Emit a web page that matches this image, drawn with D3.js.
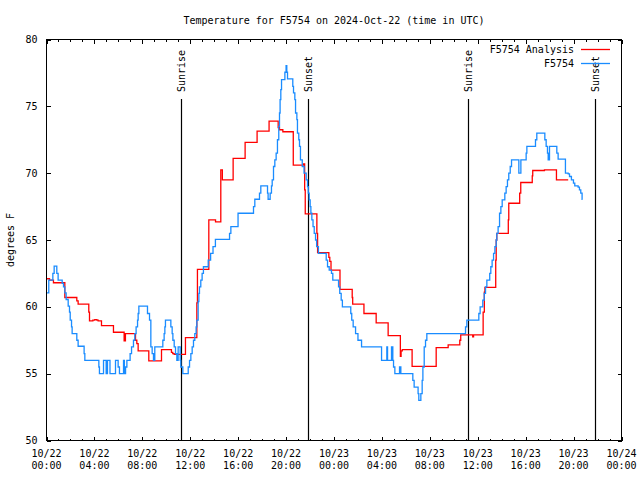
<!DOCTYPE html>
<html><head><meta charset="utf-8">
<script src="https://cdn.jsdelivr.net/npm/d3@7/dist/d3.min.js"></script>
<style>
html,body{margin:0;padding:0;background:#fff;}
svg{display:block;}
text{font-family:"DejaVu Sans Mono","Liberation Mono",monospace;font-size:10px;fill:#000;}
</style></head>
<body>
<script>
// ---- data (hours since 2024-10-22 00:00 UTC, temperature °F) ----
const titleText = "Temperature for F5754 on 2024-Oct-22 (time in UTC)";
const yLabel = "degrees F";
const seriesNames = ["F5754 Analysis", "F5754"];
const seriesColors = ["#ff0000", "#1a8cff"];
const xTickHours = [0,4,8,12,16,20,24,28,32,36,40,44,48];
const xTickDates = ["10/22","10/22","10/22","10/22","10/22","10/22","10/23","10/23","10/23","10/23","10/23","10/23","10/24"];
const xTickTimes = ["00:00","04:00","08:00","12:00","16:00","20:00","00:00","04:00","08:00","12:00","16:00","20:00","00:00"];
const yTicks = [50,55,60,65,70,75,80];
const sunHours = [11.23, 21.81, 35.17, 45.8];
const sunLabels = ["Sunrise","Sunset","Sunrise","Sunset"];

const analysisSeries = [
[0,62.1],[0.25,62.0],[0.58,61.8],[1.53,60.7],[2.53,60.45],[2.64,60.2],[3.53,59.6],[3.59,58.95],[3.87,59.0],[4.03,59.05],[4.2,59.0],[4.31,58.95],[4.59,58.6],[5.59,58.1],[6.48,57.45],[6.59,58.0],[7.43,57.5],[7.54,57.25],[7.65,56.7],[8.54,55.95],[9.6,56.8],[10.43,56.6],[10.54,56.5],[10.66,56.45],[11.6,57.7],[12.55,60.3],[12.6,62.8],[13.55,66.5],[14.11,66.35],[14.55,70.25],[14.68,69.5],[15.58,71.1],[16.58,72.3],[17.58,73.15],[18.58,73.9],[19.34,73.4],[19.45,73.25],[19.73,73.1],[20.6,70.6],[21.45,70.7],[21.55,68.75],[21.6,66.95],[22.57,65.5],[22.63,64.05],[23.57,63.7],[23.65,63.4],[23.75,62.75],[24.5,61.3],[25.52,60.7],[25.56,60.2],[26.5,59.5],[27.52,58.8],[28.52,57.85],[29.54,56.3],[29.6,56.7],[29.7,56.8],[30.52,55.55],[32.53,56.95],[33.53,57.15],[34.5,57.5],[34.58,57.9],[35.58,57.75],[35.65,57.9],[36.45,59.6],[36.55,61.1],[36.6,61.45],[37.5,63.5],[37.54,65.0],[37.59,65.5],[38.55,66.5],[38.59,67.75],[39.5,68.5],[39.59,69.3],[40.55,69.8],[40.59,70.2],[41.57,70.25],[42.57,69.5],[43.55,69.5]
];

const observedSeries = [
[0,61.05],[0.19,62.0],[0.53,62.5],[0.64,63.05],[0.86,62.5],[0.97,62.0],[1.31,61.75],[1.42,61.5],[1.53,61.05],[1.64,60.55],[1.81,60.05],[1.92,59.6],[1.98,59.0],[2.09,58.5],[2.14,58.0],[2.53,57.5],[2.64,57.05],[3.14,56.5],[3.2,56.0],[4.37,55.5],[4.42,55.0],[4.76,56.0],[4.98,55.0],[5.09,56.0],[5.3,55.0],[5.76,56.0],[5.98,55.5],[6.09,55.0],[6.43,56.0],[6.5,55.0],[6.6,55.5],[6.71,56.0],[6.98,56.5],[7.1,57.0],[7.26,57.5],[7.37,58.0],[7.48,58.5],[7.6,59.0],[7.65,59.5],[7.71,60.05],[8.43,59.5],[8.6,59.0],[8.71,57.0],[8.82,56.5],[8.93,56.0],[9.04,57.0],[9.71,57.5],[9.82,58.0],[9.88,58.5],[9.93,59.0],[10.38,58.5],[10.49,58.0],[10.55,57.5],[10.66,57.0],[10.77,56.5],[10.88,56.0],[10.99,57.0],[11.16,56.0],[11.21,55.5],[11.38,55.0],[11.83,55.5],[11.94,56.0],[12.05,56.5],[12.16,57.0],[12.27,57.5],[12.38,58.0],[12.49,58.5],[12.55,59.0],[12.66,60.4],[12.72,61.0],[12.77,61.5],[12.88,62.0],[12.99,62.5],[13.1,63.0],[13.5,63.5],[13.7,64.0],[13.9,64.5],[14.1,65.05],[15.28,65.5],[15.39,66.0],[15.99,67.0],[17.28,67.5],[17.39,68.05],[17.78,68.5],[17.89,69.05],[18.45,68.5],[18.5,68.05],[18.67,68.5],[18.78,69.05],[18.84,69.5],[18.95,70.5],[19.06,71.0],[19.17,71.5],[19.28,72.5],[19.39,73.5],[19.45,74.5],[19.5,75.5],[19.56,76.25],[19.62,77.0],[19.9,77.55],[20.0,78.05],[20.06,77.55],[20.12,77.05],[20.56,76.5],[20.62,76.0],[20.73,75.5],[20.79,74.5],[20.9,74.0],[20.95,73.0],[21.06,72.5],[21.12,72.0],[21.2,71.0],[21.35,70.5],[21.5,70.0],[21.68,69.5],[21.79,69.0],[21.85,68.5],[21.93,68.0],[22.01,67.5],[22.07,67.0],[22.15,66.5],[22.25,66.0],[22.35,65.5],[22.46,65.0],[22.55,64.5],[22.7,64.0],[23.35,63.5],[23.46,63.0],[23.6,62.75],[23.79,62.5],[23.9,62.0],[24.38,61.5],[24.48,61.0],[24.6,60.5],[24.7,60.0],[25.4,59.5],[25.48,59.0],[25.6,58.5],[25.8,58.0],[26.0,57.5],[26.3,57.0],[27.97,56.0],[28.41,57.0],[28.47,56.0],[28.8,57.0],[28.91,56.0],[28.97,55.5],[29.08,55.0],[29.47,55.5],[29.58,55.0],[30.58,54.5],[30.69,54.0],[31.02,53.5],[31.08,53.0],[31.25,53.5],[31.36,54.5],[31.42,55.5],[31.53,57.0],[31.64,57.5],[31.75,58.0],[34.98,58.5],[35.09,59.0],[36.09,59.5],[36.2,60.0],[36.42,60.5],[36.54,61.0],[36.65,61.5],[36.76,62.0],[37.0,62.5],[37.09,63.0],[37.2,63.5],[37.32,64.0],[37.43,64.5],[37.54,65.0],[37.59,65.5],[37.7,66.0],[37.82,67.0],[37.93,67.5],[38.04,68.0],[38.26,68.5],[38.37,69.0],[38.48,69.5],[38.59,70.0],[38.71,70.5],[38.82,71.0],[39.43,70.0],[39.6,71.0],[40.04,71.5],[40.1,72.0],[40.82,72.5],[40.93,73.0],[41.6,72.5],[41.71,72.0],[41.82,71.5],[41.88,71.0],[41.99,72.0],[42.6,71.5],[42.71,71.05],[43.32,70.0],[43.55,69.95],[43.66,69.75],[43.82,69.5],[43.99,69.25],[44.1,69.05],[44.38,68.95],[44.49,68.75],[44.6,68.5],[44.71,68.05],[44.75,68.05]
];

// ---- layout ----
const W = 640, H = 480;
const L = 46.5, R = 621.5, T = 39.5, B = 440.5;

const svg = d3.select("body").append("svg").attr("width", W).attr("height", H);

const x = d3.scaleLinear().domain([0, 48]).range([L, R]);
const y = d3.scaleLinear().domain([50, 80]).range([B, T]);

// title
svg.append("text").attr("x", (L + R) / 2).attr("y", 24).attr("text-anchor", "middle").text(titleText);

// y label
svg.append("text").attr("transform", `translate(13.5,${(T + B) / 2}) rotate(-90)`)
  .attr("text-anchor", "middle").text(yLabel);

// axes (ticks inward, mirrored)
const minorHours = d3.range(0, 49, 1).filter(h => h % 4 !== 0);

const bottomAxis = d3.axisBottom(x).tickValues(xTickHours).tickSizeInner(-4).tickSizeOuter(0).tickFormat(() => "");
const topAxis = d3.axisTop(x).tickValues(xTickHours).tickSizeInner(-4).tickSizeOuter(0).tickFormat(() => "");
const bottomMinor = d3.axisBottom(x).tickValues(minorHours).tickSizeInner(-2).tickSizeOuter(0).tickFormat(() => "");
const topMinor = d3.axisTop(x).tickValues(minorHours).tickSizeInner(-2).tickSizeOuter(0).tickFormat(() => "");
const leftAxis = d3.axisLeft(y).tickValues(yTicks).tickSizeInner(-4).tickSizeOuter(0).tickFormat(() => "");
const rightAxis = d3.axisRight(y).tickValues(yTicks).tickSizeInner(-4).tickSizeOuter(0).tickFormat(() => "");

function drawAxis(ax, tr) {
  const g = svg.append("g").attr("transform", tr).call(ax);
  g.selectAll("path.domain").remove();
  g.selectAll("line").attr("stroke", "#000").attr("shape-rendering", "crispEdges");
  g.selectAll("text").remove();
  return g;
}
drawAxis(bottomAxis, `translate(0,${B})`);
drawAxis(topAxis, `translate(0,${T})`);
drawAxis(bottomMinor, `translate(0,${B})`);
drawAxis(topMinor, `translate(0,${T})`);
drawAxis(leftAxis, `translate(${L},0)`);
drawAxis(rightAxis, `translate(${R},0)`);

// tick labels
const yl = svg.append("g");
yl.selectAll("text").data(yTicks).join("text")
  .attr("x", L - 9).attr("y", d => y(d)).attr("dy", "0.35em").attr("text-anchor", "end").text(d => d);

const xl = svg.append("g");
xl.selectAll("text.d").data(xTickHours).join("text").attr("class", "d")
  .attr("x", d => x(d)).attr("y", 457).attr("text-anchor", "middle").text((d, i) => xTickDates[i]);
xl.selectAll("text.t").data(xTickHours).join("text").attr("class", "t")
  .attr("x", d => x(d)).attr("y", 469).attr("text-anchor", "middle").text((d, i) => xTickTimes[i]);

// sunrise / sunset lines
const sg = svg.append("g");
sg.selectAll("line").data(sunHours).join("line")
  .attr("x1", d => Math.round(x(d)) + 0.5).attr("x2", d => Math.round(x(d)) + 0.5)
  .attr("y1", 99).attr("y2", B).attr("stroke", "#000").attr("stroke-width", 1.2);
sg.selectAll("text").data(sunHours).join("text")
  .attr("transform", d => `translate(${Math.round(x(d)) + 4},92) rotate(-90)`)
  .attr("text-anchor", "start").text((d, i) => sunLabels[i]);

// series lines
const line = d3.line().x(d => x(d[0])).y(d => y(d[1])).curve(d3.curveStepAfter);
const plotG = svg.append("g");
plotG.append("path").datum(analysisSeries).attr("d", line)
  .attr("fill", "none").attr("stroke", seriesColors[0]).attr("stroke-width", 1.3);
plotG.append("path").datum(observedSeries).attr("d", line)
  .attr("fill", "none").attr("stroke", seriesColors[1]).attr("stroke-width", 1.3);

// frame
svg.append("rect").attr("x", L).attr("y", T).attr("width", R - L).attr("height", B - T)
  .attr("fill", "none").attr("stroke", "#000").attr("stroke-width", 1).attr("shape-rendering", "crispEdges");

// legend
const lg = svg.append("g");
const legY = [49.5, 63.5];
seriesNames.forEach((name, i) => {
  lg.append("text").attr("x", 574).attr("y", legY[i]).attr("dy", "0.35em").attr("text-anchor", "end").text(name);
  lg.append("line").attr("x1", 581).attr("x2", 610).attr("y1", legY[i]).attr("y2", legY[i])
    .attr("stroke", seriesColors[i]).attr("stroke-width", 1.3);
});
</script>
</body></html>
